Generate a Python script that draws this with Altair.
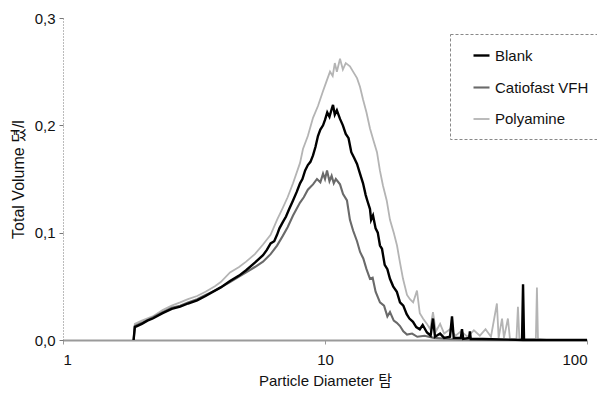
import altair as alt
import pandas as pd

legend_order = ["Blank", "Catiofast VFH", "Polyamine"]

blank_x = [1.86, 1.88, 2.0, 2.1, 2.2, 2.4, 2.6, 2.8, 3.0, 3.25, 3.5, 3.8, 4.0, 4.34, 4.7, 5.0, 5.4, 5.8, 6.0, 6.2,
           6.4, 6.56, 6.7, 6.91, 7.1, 7.3, 7.55, 7.8, 8.03, 8.2, 8.4, 8.6, 8.8, 9.0, 9.2, 9.4, 9.6, 9.83, 10.0, 10.2,
           10.4, 10.6, 10.73, 10.9, 11.1, 11.41, 11.7, 12.0, 12.3, 12.6, 12.9, 13.25, 13.6, 13.97, 14.3, 14.5, 14.85,
           15.0, 15.25, 15.6, 15.9, 16.21, 16.5, 16.9, 17.3, 17.7, 18.2, 18.8, 19.33, 19.9, 20.5, 21.0, 21.67, 22.3,
           23.0, 23.6, 24.5, 25.3, 25.83, 26.3, 27.5, 28.5, 30.0, 30.53, 31.0, 33.0, 33.33, 33.7, 35.5, 35.73, 36.0,
           40.0, 56.5, 57.0, 57.5, 60.0, 100.0]
blank_y = [0.0, 0.012, 0.015, 0.018, 0.020, 0.025, 0.029, 0.031, 0.034, 0.037, 0.041, 0.046, 0.049, 0.055, 0.060,
           0.065, 0.072, 0.079, 0.084, 0.090, 0.092, 0.098, 0.104, 0.110, 0.115, 0.122, 0.130, 0.138, 0.146, 0.150,
           0.158, 0.163, 0.166, 0.172, 0.180, 0.190, 0.196, 0.200, 0.205, 0.212, 0.208, 0.215, 0.219, 0.210, 0.214,
           0.206, 0.200, 0.192, 0.188, 0.175, 0.170, 0.164, 0.155, 0.146, 0.135, 0.130, 0.122, 0.112, 0.116, 0.104,
           0.100, 0.088, 0.085, 0.070, 0.066, 0.057, 0.050, 0.045, 0.035, 0.032, 0.024, 0.020, 0.017, 0.012, 0.010,
           0.014, 0.007, 0.004, 0.020, 0.003, 0.006, 0.002, 0.003, 0.022, 0.002, 0.002, 0.010, 0.001, 0.002, 0.008,
           0.001, 0.001, 0.0, 0.052, 0.0, 0.0, 0.0]

catio_x = [1.86, 1.88, 2.0, 2.2, 2.4, 2.6, 2.8, 3.0, 3.25, 3.5, 3.8, 4.0, 4.34, 4.7, 5.0, 5.4, 5.8, 6.2, 6.56, 6.9,
           7.2, 7.55, 8.03, 8.3, 8.6, 9.0, 9.32, 9.6, 9.83, 10.0, 10.18, 10.4, 10.6, 10.8, 11.0, 11.41, 11.72, 12.13,
           12.45, 12.8, 13.25, 13.61, 14.0, 14.4, 14.85, 15.2, 15.6, 16.21, 16.8, 17.3, 17.7, 18.3, 18.8, 19.33,
           19.9, 20.56, 21.5, 22.5, 24.0, 26.0, 30.0, 40.0, 100.0]
catio_y = [0.0, 0.013, 0.016, 0.021, 0.026, 0.030, 0.032, 0.035, 0.038, 0.042, 0.046, 0.049, 0.054, 0.059, 0.063,
           0.068, 0.073, 0.080, 0.088, 0.097, 0.105, 0.116, 0.128, 0.133, 0.140, 0.145, 0.150, 0.147, 0.155, 0.150,
           0.158, 0.148, 0.153, 0.146, 0.150, 0.145, 0.136, 0.130, 0.112, 0.102, 0.092, 0.082, 0.076, 0.066, 0.057,
           0.058, 0.045, 0.035, 0.032, 0.022, 0.026, 0.018, 0.016, 0.013, 0.008, 0.005, 0.006, 0.003, 0.004, 0.002,
           0.001, 0.0, 0.0]

poly_x = [1.86, 1.88, 2.0, 2.2, 2.4, 2.6, 2.8, 3.0, 3.25, 3.5, 3.8, 4.0, 4.34, 4.7, 5.0, 5.4, 5.8, 6.2, 6.56, 6.9,
          7.2, 7.55, 8.03, 8.24, 8.6, 9.0, 9.4, 9.83, 10.1, 10.45, 10.7, 10.9, 11.1, 11.41, 11.7, 12.0, 12.45, 12.8,
          13.25, 13.6, 13.97, 14.4, 14.85, 15.3, 15.79, 16.2, 16.64, 17.2, 17.7, 18.3, 18.83, 19.33, 19.85, 20.56,
          21.1, 21.7, 22.44, 23.0, 23.66, 24.5, 25.2, 25.83, 26.5, 27.5, 28.5, 30.0, 31.5, 33.0, 35.0, 37.0, 39.0,
          41.0, 43.0, 45.3, 46.0, 47.4, 48.2, 49.9, 50.8, 53.8, 54.5, 55.2, 63.8, 64.4, 65.0, 70.0, 100.0]
poly_y = [0.0, 0.015, 0.018, 0.022, 0.028, 0.032, 0.035, 0.038, 0.041, 0.045, 0.050, 0.054, 0.063, 0.068, 0.073,
          0.080, 0.089, 0.098, 0.112, 0.123, 0.133, 0.146, 0.165, 0.178, 0.190, 0.207, 0.218, 0.232, 0.240, 0.250,
          0.246, 0.258, 0.250, 0.262, 0.252, 0.258, 0.255, 0.250, 0.244, 0.236, 0.224, 0.212, 0.197, 0.186, 0.175,
          0.158, 0.144, 0.130, 0.112, 0.100, 0.088, 0.072, 0.057, 0.042, 0.038, 0.035, 0.046, 0.025, 0.020, 0.015,
          0.010, 0.026, 0.008, 0.015, 0.006, 0.010, 0.004, 0.008, 0.003, 0.009, 0.004, 0.010, 0.003, 0.034, 0.002,
          0.020, 0.002, 0.020, 0.001, 0.001, 0.031, 0.001, 0.001, 0.049, 0.001, 0.0, 0.0]

x_ticks = [1, 10, 100]
y_ticks = [0.0, 0.1, 0.2, 0.3]

rows = []
for name, xs, ys in [("Polyamine", poly_x, poly_y), ("Catiofast VFH", catio_x, catio_y), ("Blank", blank_x, blank_y)]:
    for i, (a, b) in enumerate(zip(xs, ys)):
        rows.append({"series": name, "x": a, "y": b, "i": i})
df = pd.DataFrame(rows)

FONT = "Liberation Sans, Arial, Noto Sans CJK KR"

chart = alt.Chart(df).mark_line(interpolate="linear").encode(
    x=alt.X("x:Q",
            scale=alt.Scale(type="log", domain=[1, 100]),
            axis=alt.Axis(values=x_ticks, format="~g", title="Particle Diameter 탐",
                          grid=False, domainColor="#9a9a9a", domainWidth=2, tickColor="#9a9a9a",
                          tickSize=4, labelPadding=8, labelFontSize=15, labelColor="#111",
                          titleFontSize=15, titleFontWeight="normal", titleColor="#111",
                          titleY=40, titleBaseline="middle", labelFont=FONT, titleFont=FONT)),
    y=alt.Y("y:Q",
            scale=alt.Scale(domain=[0, 0.3]),
            axis=alt.Axis(values=y_ticks, labelExpr="replace(format(datum.value, '.1f'), '.', ',')",
                          title="Total Volume 뎠/l", grid=False, domainColor="#777", domainDash=[1, 2],
                          domainWidth=1, tickColor="#777", tickSize=4, labelPadding=4, labelFontSize=15,
                          labelColor="#111", titleFontSize=16, titleFontWeight="normal", titleColor="#111",
                          titleX=-45, titleY=161, titleBaseline="middle", titleAlign="center",
                          labelFont=FONT, titleFont=FONT)),
    color=alt.Color("series:N",
                    scale=alt.Scale(domain=legend_order, range=["#000000", "#6a6a6a", "#b4b4b4"]),
                    legend=alt.Legend(title=None, orient="none", legendX=387, legendY=16,
                                      strokeColor="#888", padding=12, symbolType="stroke",
                                      symbolSize=256, symbolOffset=10, labelFontSize=15, labelFont=FONT,
                                      labelColor="#111", rowPadding=14, labelOffset=4)),
    strokeWidth=alt.StrokeWidth("series:N",
                                scale=alt.Scale(domain=legend_order, range=[2.4, 1.8, 1.8]),
                                legend=None),
    detail="series:N",
    order="i:Q",
).properties(
    width=524, height=322,
    autosize=alt.AutoSizeParams(type="none"),
    padding={"left": 55, "top": 10, "right": 10, "bottom": 48},
).configure_view(stroke=None).configure_legend(strokeDash=[3, 2])

chart.save("out.html", embed_options={"renderer": "svg", "actions": False})
